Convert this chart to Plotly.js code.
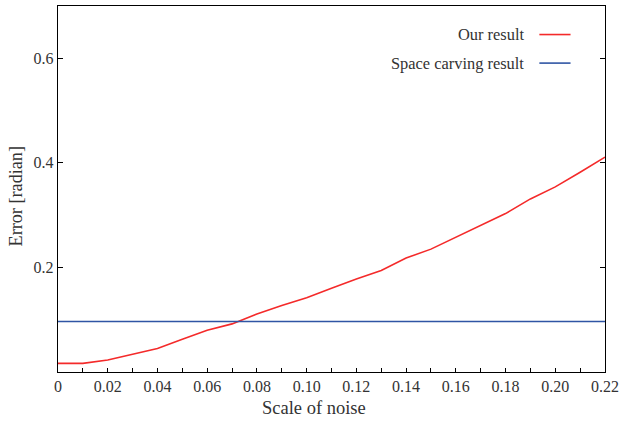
<!DOCTYPE html>
<html>
<head>
<meta charset="utf-8">
<script src="https://cdn.plot.ly/plotly-3.0.1.min.js"></script>
<style>html,body{margin:0;padding:0;background:#fff}#chart{width:621px;height:422px}</style>
</head>
<body>
<div id="chart"></div>
<script>
const noiseScale = [0, 0.01, 0.02, 0.03, 0.04, 0.05, 0.06, 0.07, 0.08, 0.09, 0.10, 0.11, 0.12, 0.13, 0.14, 0.15, 0.16, 0.17, 0.18, 0.19, 0.20, 0.21, 0.22];
const ourResult = [0.0165, 0.0165, 0.023, 0.034, 0.045, 0.0626, 0.080, 0.092, 0.111, 0.127, 0.142, 0.160, 0.178, 0.194, 0.218, 0.235, 0.258, 0.281, 0.303, 0.331, 0.354, 0.382, 0.411];
const spaceCarvingX = [0, 0.22];
const spaceCarving = [0.0965, 0.0965];
const seriesNames = ["Our result", "Space carving result"];
const xTickVals = [0, 0.02, 0.04, 0.06, 0.08, 0.10, 0.12, 0.14, 0.16, 0.18, 0.20, 0.22];
const xTickText = ["0", "0.02", "0.04", "0.06", "0.08", "0.10", "0.12", "0.14", "0.16", "0.18", "0.20", "0.22"];
const yTickVals = [0.2, 0.4, 0.6];
const yTickText = ["0.2", "0.4", "0.6"];
const xTitle = "Scale of noise";
const yTitle = "Error [radian]";

const red = "#f42a2a", blue = "#2f55a4", txt = "#333";
const fam = "Liberation Serif";
const font = {family: fam, size: 16, color: txt};

const traces = [
  {x: noiseScale, y: ourResult, mode: "lines", name: seriesNames[0], line: {color: red, width: 1.6}},
  {x: spaceCarvingX, y: spaceCarving, mode: "lines", name: seriesNames[1], line: {color: blue, width: 1.6}}
];

const legendY = [0.922, 0.844];
const annotations = seriesNames.map((n, i) => ({
  xref: "paper", yref: "paper", x: 0.856, y: legendY[i], xanchor: "right", yanchor: "middle",
  text: n, showarrow: false, font: {family: fam, size: 16.4, color: txt}
}));
annotations.push({
  xref: "paper", yref: "paper", x: -0.0777, y: 0.481, xanchor: "center", yanchor: "middle",
  textangle: -90, text: yTitle, showarrow: false, font: {family: fam, size: 18.2, color: txt}
});
annotations.push({
  xref: "paper", yref: "paper", x: 0.4675, y: -0.098, xanchor: "center", yanchor: "middle",
  text: xTitle, showarrow: false, font: {family: fam, size: 18.5, color: txt}
});
const shapes = [red, blue].map((c, i) => ({
  type: "line", xref: "paper", yref: "paper", x0: 0.880, x1: 0.937, y0: legendY[i], y1: legendY[i],
  line: {color: c, width: 1.6}
}));

const layout = {
  width: 621, height: 422,
  margin: {l: 58, r: 16, t: 6, b: 50},
  paper_bgcolor: "#fff", plot_bgcolor: "#fff",
  font: font,
  showlegend: false,
  xaxis: {
    range: [0, 0.22], tickvals: xTickVals, ticktext: xTickText,
    ticks: "inside", ticklen: 4, tickcolor: "#000", tickwidth: 1,
    minor: {dtick: 0.01, tick0: 0, ticks: "inside", ticklen: 4, tickcolor: "#000", tickwidth: 1},
    showline: true, linecolor: "#000", linewidth: 1.2, mirror: true,
    showgrid: false, zeroline: false,
    tickfont: {family: fam, size: 16, color: txt}
  },
  yaxis: {
    range: [0, 0.7], tickvals: yTickVals, ticktext: yTickText,
    ticks: "inside", ticklen: 5, tickcolor: "#000", tickwidth: 1,
    showline: true, linecolor: "#000", linewidth: 1.2, mirror: "ticks",
    showgrid: false, zeroline: false,
    tickfont: {family: fam, size: 16, color: txt}
  },
  annotations: annotations,
  shapes: shapes
};

Plotly.newPlot("chart", traces, layout, {displayModeBar: false, staticPlot: true});
</script>
</body>
</html>
